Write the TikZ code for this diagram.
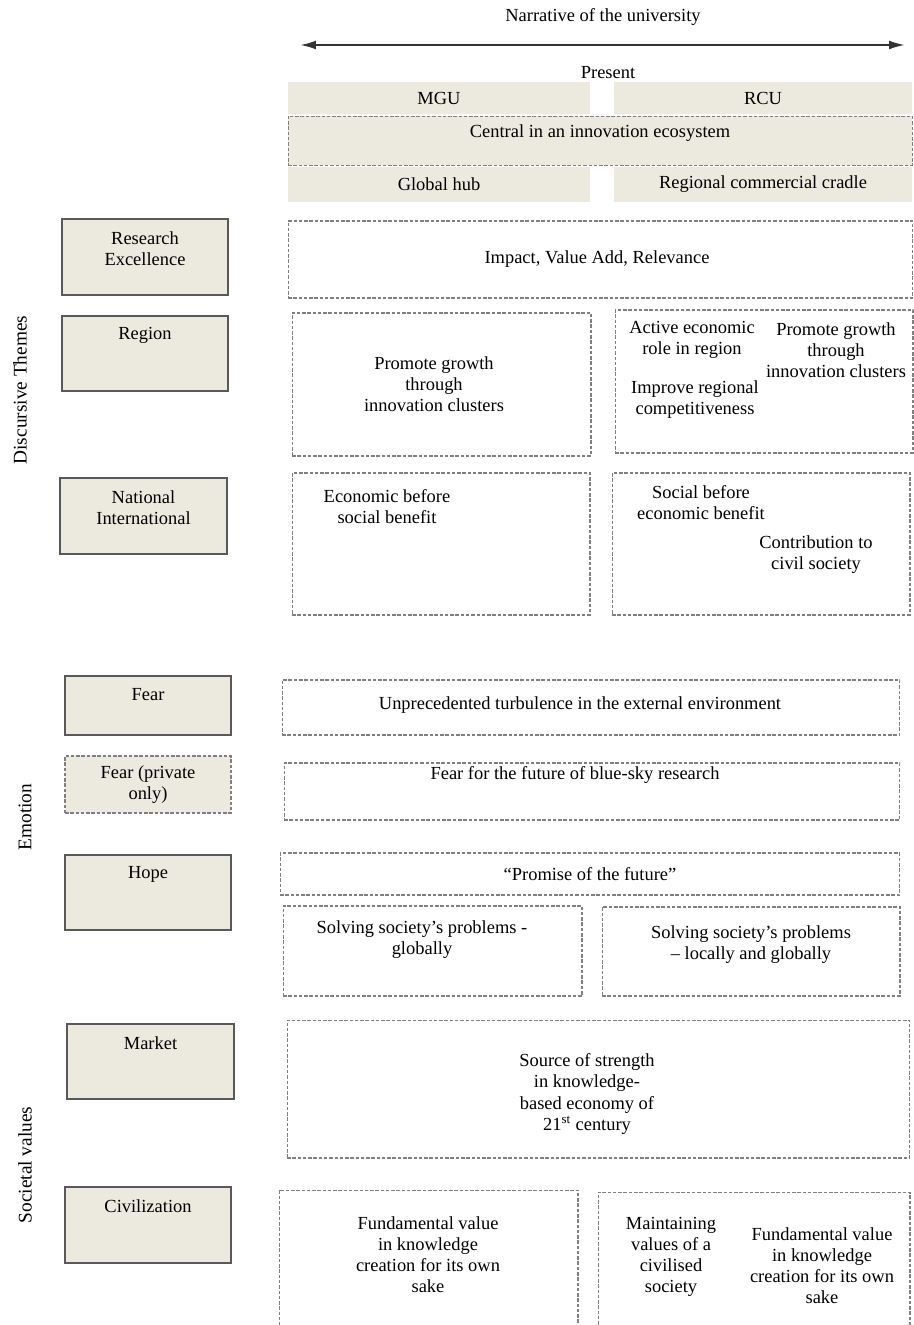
\documentclass[tikz,border=0pt]{standalone}
\usepackage{fontspec}
\setmainfont{Liberation Serif}
\usetikzlibrary{arrows.meta}
\definecolor{beige}{RGB}{236,233,223}

\begin{document}
\begin{tikzpicture}[x=0.02cm,y=-0.02cm,font=\fontsize{10.5}{12}\selectfont]

\tikzstyle{hd} = [rectangle, fill=beige, inner sep=0pt]
\tikzstyle{th} = [rectangle, fill=beige, draw=black!65, line width=1pt, inner sep=0pt]
\tikzstyle{cb} = [rectangle, draw=black!50, dash pattern=on 2pt off 1pt, line width=0.6pt, inner sep=0pt, align=center]
\tikzstyle{tx} = [align=center, inner sep=1pt]
\tikzstyle{side} = [rotate=90, font=\fontsize{11}{13}\selectfont]
\useasboundingbox (0,0) rectangle (913,1325);

\node (narr) [tx] at (603,17) {Narrative of the university};
\coordinate (al) at (300,45);
\coordinate (ar) at (905,45);
\draw [{Latex[length=9pt,width=5pt]}-{Latex[length=9pt,width=5pt]}, line width=1.2pt, black!80] (al) -- (ar);
\node (present) [tx] at (608,73) {Present};

\node (mgu) [hd, minimum width=6.04cm, minimum height=0.64cm] at (439,98) {MGU};
\node (rcu) [hd, minimum width=5.96cm, minimum height=0.64cm] at (763,98) {RCU};
\node (central) [hd, draw=black!50, dash pattern=on 2pt off 1pt, minimum width=12.48cm, minimum height=0.98cm] at (600,140.5) {};
\node (centralt) [tx] at (600,133) {Central in an innovation ecosystem};
\node (hub) [hd, minimum width=6.04cm, minimum height=0.70cm] at (439,184.5) {Global hub};
\node (cradle) [hd, minimum width=5.96cm, minimum height=0.70cm] at (763,184.5) {Regional commercial cradle};

\node (disc) [side] at (20,390) {Discursive Themes};
\node (emo) [side] at (25,817) {Emotion};
\node (soc) [side] at (25,1165) {Societal values};

\node (resx) [th, minimum width=3.32cm, minimum height=1.52cm] at (145,257) {};
\node (resxt) [tx] at (145,249) {Research\\Excellence};
\node (region) [th, minimum width=3.32cm, minimum height=1.5cm] at (145,353.5) {};
\node (regiont) [tx] at (145,335) {Region};
\node (natl) [th, minimum width=3.34cm, minimum height=1.52cm] at (143.5,516) {};
\node (natlt) [tx] at (143.5,508) {National\\International};
\node (fear) [th, minimum width=3.32cm, minimum height=1.18cm] at (148,705.5) {};
\node (feart) [tx] at (148,695) {Fear};
\node (fearp) [th, draw=black!50, dash pattern=on 2pt off 1pt, line width=0.6pt, minimum width=3.32cm, minimum height=1.14cm] at (148,784.5) {};
\node (fearpt) [tx] at (148,785) {Fear (private\\only)};
\node (hope) [th, minimum width=3.32cm, minimum height=1.5cm] at (148,892.5) {};
\node (hopet) [tx] at (148,874) {Hope};
\node (market) [th, minimum width=3.34cm, minimum height=1.5cm] at (150.5,1061.5) {};
\node (markett) [tx] at (150.5,1043) {Market};
\node (civ) [th, minimum width=3.32cm, minimum height=1.52cm] at (148,1225) {};
\node (civt) [tx] at (148,1206) {Civilization};

\node (impact) [cb, minimum width=12.5cm, minimum height=1.54cm] at (600.5,259.5) {};
\node (impactt) [tx] at (597,259) {Impact, Value Add, Relevance};

\node (regm) [cb, minimum width=5.98cm, minimum height=2.86cm] at (441.5,384.5) {};
\node (regmt) [tx] at (434,384) {Promote growth\\through\\innovation clusters};
\node (regr) [cb, minimum width=5.96cm, minimum height=2.86cm] at (764,381.5) {};
\node (active) [tx] at (692,340) {Active economic\\role in region};
\node (improve) [tx] at (695,400) {Improve regional\\competitiveness};
\node (promote) [tx] at (836,350) {Promote growth\\through\\innovation clusters};

\node (natm) [cb, minimum width=5.96cm, minimum height=2.84cm] at (441,544) {};
\node (econ) [tx] at (387,507) {Economic before\\social benefit};
\node (natr) [cb, minimum width=5.96cm, minimum height=2.84cm] at (761,544) {};
\node (social) [tx] at (701,503) {Social before\\economic benefit};
\node (contrib) [tx] at (816,555) {Contribution to\\civil society};

\node (fearc) [cb, minimum width=12.36cm, minimum height=1.10cm] at (591,707.5) {};
\node (fearct) [tx] at (580,705) {Unprecedented turbulence in the external environment};
\node (fearpc) [cb, minimum width=12.32cm, minimum height=1.14cm] at (592,791.5) {};
\node (fearpct) [tx] at (575,775) {Fear for the future of blue-sky research};

\node (promise) [cb, minimum width=12.4cm, minimum height=0.84cm] at (590,874) {``Promise of the future''};
\node (solg) [cb, minimum width=5.98cm, minimum height=1.80cm] at (432.5,951) {};
\node (solgt) [tx] at (422,940) {Solving society’s problems -\\globally};
\node (soll) [cb, minimum width=5.96cm, minimum height=1.78cm] at (751,951.5) {};
\node (sollt) [tx] at (751,945) {Solving society’s problems\\– locally and globally};

\node (source) [cb, minimum width=12.46cm, minimum height=2.76cm] at (598.5,1089) {};
\node (sourcet) [tx] at (587,1094) {Source of strength\\in knowledge-\\based economy of\\21\textsuperscript{st} century};

\node (fundm) [cb, minimum width=5.98cm, minimum height=2.9cm] at (428.5,1262.5) {};
\node (fundmt) [tx] at (428,1255) {Fundamental value\\in knowledge\\creation for its own\\sake};
\node (civr) [cb, minimum width=6.24cm, minimum height=2.86cm] at (754,1263.5) {};
\node (maint) [tx] at (671,1257) {Maintaining\\values of a\\civilised\\society};
\node (fundr) [tx] at (822,1266) {Fundamental value\\in knowledge\\creation for its own\\sake};

\end{tikzpicture}
\end{document}
